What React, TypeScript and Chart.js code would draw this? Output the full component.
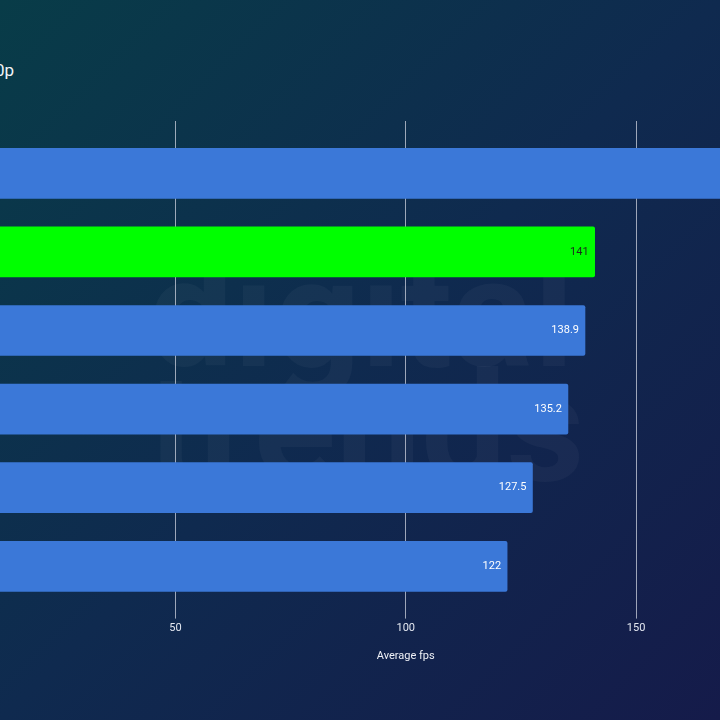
import React, { useEffect, useRef } from "react";
import { Chart, registerables } from "chart.js";

Chart.register(...registerables);

const titleText = "1080p";
const categories = ["GPU A", "GPU B", "GPU C", "GPU D", "GPU E", "GPU F"];
const fpsValues = [175, 141, 138.9, 135.2, 127.5, 122];
const barColors = ["#3b78d8", "#00ff00", "#3b78d8", "#3b78d8", "#3b78d8", "#3b78d8"];
const labelColors = ["#ffffff", "#1d2b1d", "#ffffff", "#ffffff", "#ffffff", "#ffffff"];
const axisTitle = "Average fps";
const axisMin = 0;
const axisMax = 200;
const axisStep = 50;

const valueLabels = {
  id: "valueLabels",
  afterDatasetsDraw(chart: any) {
    const ctx = chart.ctx;
    const meta = chart.getDatasetMeta(0);
    ctx.save();
    ctx.font = "11px Roboto, 'Noto Sans', sans-serif";
    ctx.textAlign = "right";
    ctx.textBaseline = "middle";
    meta.data.forEach((bar: any, i: number) => {
      ctx.fillStyle = labelColors[i];
      ctx.fillText(String(fpsValues[i]), bar.x - 6, bar.y);
    });
    ctx.restore();
  },
};

export default function App() {
  const canvasRef = useRef<HTMLCanvasElement>(null);

  useEffect(() => {
    if (!canvasRef.current) return;
    const gridColor = "rgba(205,210,222,0.75)";
    const chart = new Chart(canvasRef.current, {
      type: "bar",
      data: {
        labels: categories,
        datasets: [
          {
            data: fpsValues,
            backgroundColor: barColors,
            borderWidth: 0,
            borderRadius: 2,
            barThickness: 50,
          },
        ],
      },
      options: {
        indexAxis: "y",
        animation: false,
        responsive: true,
        maintainAspectRatio: false,
        layout: { padding: { left: 20, right: 20, top: 0, bottom: 0 } },
        plugins: {
          legend: { display: false },
          tooltip: { enabled: false },
          title: { display: false },
        },
        scales: {
          y: {
            display: false,
          },
          x: {
            position: "bottom",
            min: axisMin,
            max: axisMax,
            border: { display: false },
            grid: {
              color: gridColor,
              lineWidth: 1,
              drawTicks: true,
              tickLength: 13,
            },
            ticks: {
              stepSize: axisStep,
              color: "#e3e7f0",
              padding: 3,
              font: { family: "Roboto, 'Noto Sans', sans-serif", size: 11 },
            },
            title: {
              display: true,
              text: axisTitle,
              color: "#eef0f6",
              padding: { top: 12, bottom: 4 },
              font: { family: "Roboto, 'Noto Sans', sans-serif", size: 11 },
            },
          },
          x2: {
            type: "linear",
            position: "top",
            min: axisMin,
            max: axisMax,
            border: { display: false },
            grid: {
              color: gridColor,
              lineWidth: 1,
              drawOnChartArea: false,
              drawTicks: true,
              tickLength: 13,
            },
            ticks: { display: false, stepSize: axisStep },
          },
        },
      },
      plugins: [valueLabels],
    });
    return () => chart.destroy();
  }, []);

  const watermarkStyle: React.CSSProperties = {
    position: "absolute",
    left: 148,
    fontSize: 152,
    lineHeight: "152px",
    fontWeight: 700,
    color: "rgba(255,255,255,0.035)",
    whiteSpace: "nowrap",
  };

  return (
    <div
      style={{
        position: "fixed",
        left: 0,
        top: 0,
        width: 720,
        height: 720,
        overflow: "hidden",
        background: "linear-gradient(135deg, #083c48 0%, #0f2a4f 50%, #151b4a 100%)",
        fontFamily: "Roboto, 'Noto Sans', sans-serif",
      }}
    >
      <div style={{ ...watermarkStyle, top: 238 }}>digital</div>
      <div style={{ ...watermarkStyle, top: 353 }}>trends</div>
      <div
        style={{
          position: "absolute",
          right: 706,
          top: 60,
          fontSize: 17,
          lineHeight: "20px",
          color: "#f2f4f8",
          whiteSpace: "nowrap",
        }}
      >
        {titleText}
      </div>
      <div
        style={{
          position: "absolute",
          left: -75.5,
          top: 121,
          width: 961.5,
          height: 546,
        }}
      >
        <canvas ref={canvasRef} />
      </div>
    </div>
  );
}
